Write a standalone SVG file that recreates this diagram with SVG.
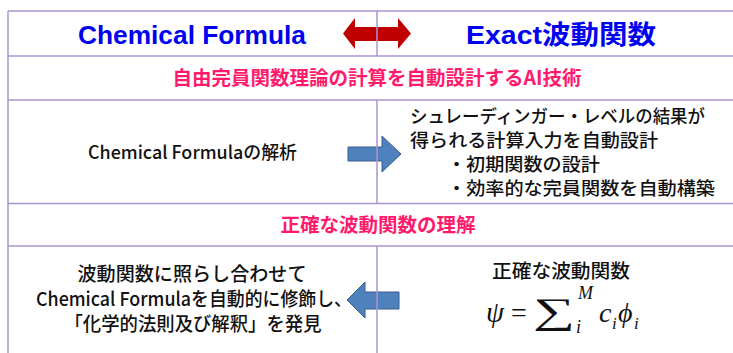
<svg xmlns="http://www.w3.org/2000/svg" width="733" height="353" viewBox="0 0 733 353">
<style>
.grid{stroke:#a994d2;stroke-width:1.5;fill:none}
.hdr{font-family:"Liberation Sans","Noto Sans CJK JP",sans-serif;font-weight:bold;fill:#0000f0;font-size:26px}
.pink{font-family:"Noto Sans CJK JP","Liberation Sans",sans-serif;font-weight:bold;fill:#ff1a6c;font-size:19.5px}
.body{font-family:"Noto Sans CJK JP","Liberation Sans",sans-serif;font-weight:500;fill:#111;font-size:19px}
.math{font-family:"Liberation Serif","DejaVu Serif",serif;fill:#111}
.it{font-style:italic}
.blue{fill:#4f81bd;stroke:#385d8a;stroke-width:1}
.red{fill:#c00000}
</style>
<rect width="733" height="353" fill="#ffffff"/>
<g id="connectors">
<polygon class="red" points="343,33.5 355,18 355,27 398,27 398,18 411,33.5 398,49 398,41 355,41 355,49"/>
<polygon class="blue" points="348,147 382,147 382,136 401,154 382,172 382,161 348,161"/>
<polygon class="blue" points="347,300 365,282 365,292 399,292 399,309 365,309 365,318"/>
</g>
<g id="grid">
<line class="grid" x1="8" y1="11" x2="733" y2="11"/>
<line class="grid" x1="8" y1="56" x2="733" y2="56"/>
<line class="grid" x1="8" y1="100" x2="733" y2="100"/>
<line class="grid" x1="8" y1="203.5" x2="733" y2="203.5"/>
<line class="grid" x1="8" y1="246" x2="733" y2="246"/>
<line class="grid" x1="8" y1="11" x2="8" y2="353"/>
<line class="grid" x1="377" y1="11" x2="377" y2="56"/>
<line class="grid" x1="377" y1="100" x2="377" y2="203.5"/>
<line class="grid" x1="377" y1="246" x2="377" y2="353"/>
</g>
<g id="header-left">
<text class="hdr" x="78" y="44" textLength="228" lengthAdjust="spacingAndGlyphs">Chemical Formula</text>
</g>
<g id="header-right">
<text class="hdr" x="466" y="44" textLength="190" lengthAdjust="spacingAndGlyphs">Exact波動関数</text>
</g>
<g id="title-ai">
<text class="pink" x="377" y="85" text-anchor="middle">自由完員関数理論の計算を自動設計するAI技術</text>
</g>
<g id="analysis">
<text class="body" x="88" y="159" textLength="209" lengthAdjust="spacingAndGlyphs" style="font-size:18px">Chemical Formulaの解析</text>
</g>
<g id="auto-design">
<text class="body" x="410" y="123" textLength="295" lengthAdjust="spacingAndGlyphs" style="font-size:18px">シュレーディンガー・レベルの結果が</text>
<text class="body" x="410" y="147" textLength="248" lengthAdjust="spacingAndGlyphs" style="font-size:18px">得られる計算入力を自動設計</text>
<text class="body" x="447" y="171" textLength="153" lengthAdjust="spacingAndGlyphs" style="font-size:18px">・初期関数の設計</text>
<text class="body" x="447" y="195" textLength="268" lengthAdjust="spacingAndGlyphs" style="font-size:18px">・効率的な完員関数を自動構築</text>
</g>
<g id="title-wave">
<text class="pink" x="378" y="232" text-anchor="middle">正確な波動関数の理解</text>
</g>
<g id="discover">
<text class="body" x="192" y="281" text-anchor="middle" textLength="229" lengthAdjust="spacingAndGlyphs">波動関数に照らし合わせて</text>
<text class="body" x="194" y="306" text-anchor="middle" textLength="316" lengthAdjust="spacingAndGlyphs">Chemical Formulaを自動的に修飾し、</text>
<text class="body" x="193" y="331" text-anchor="middle" textLength="257" lengthAdjust="spacingAndGlyphs">「化学的法則及び解釈」を発見</text>
</g>
<g id="exact-wave">
<text class="body" x="561" y="278" text-anchor="middle" textLength="138" lengthAdjust="spacingAndGlyphs">正確な波動関数</text>
<text class="math it" x="486" y="322" style="font-size:29px">ψ</text>
<text class="math" x="511" y="322" style="font-size:28px">=</text>
<text class="math" x="533" y="323" style="font-size:36px" textLength="42" lengthAdjust="spacingAndGlyphs">∑</text>
<text class="math it" x="578" y="299" style="font-size:18px">M</text>
<text class="math it" x="576" y="333" style="font-size:18px">i</text>
<text class="math it" x="599" y="322" style="font-size:28px">c</text>
<text class="math it" x="612" y="329" style="font-size:17px">i</text>
<text class="math it" x="618" y="322" style="font-size:28px">ϕ</text>
<text class="math it" x="634" y="329" style="font-size:17px">i</text>
</g>
</svg>
